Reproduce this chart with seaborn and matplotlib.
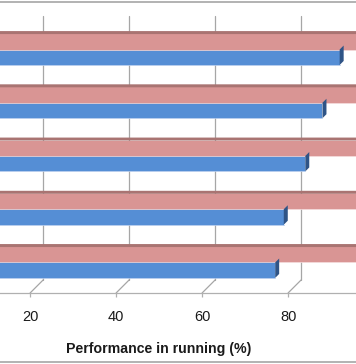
import numpy as np
import pandas as pd
import matplotlib
matplotlib.use("Agg")
import matplotlib.pyplot as plt
import seaborn as sns
from matplotlib.patches import Polygon, Rectangle

# data (category names are cropped away in the original)
groups = ["G1", "G2", "G3", "G4", "G5"]
pink_vals = [100, 100, 100, 100, 100]
blue_vals = [92, 88, 84, 79, 77]
series = ["Reference", "Running"]
xticks = [20, 40, 60, 80]

df = pd.DataFrame({
    "group": groups * 2,
    "value": pink_vals + blue_vals,
    "series": [series[0]] * 5 + [series[1]] * 5,
})

pink = "#d99594"
blue = "#558ed5"
pink_top = "#a97472"
blue_side = "#2f5486"

sns.set_style("white")
plt.rcParams["font.family"] = ["Liberation Sans", "DejaVu Sans"]

W, H = 356, 364
fig = plt.figure(figsize=(W / 100, H / 100), dpi=100)
floor_px = 293
ax = fig.add_axes([0, (H - floor_px) / H, 1, floor_px / H])

sns.barplot(data=df, x="value", y="group", hue="series", orient="h",
            palette=[pink, blue], width=0.58, gap=0, saturation=1,
            legend=False, ax=ax, zorder=3, linewidth=0, edgecolor="none")

ax.set_xlim(13.0, 95.8)
ax.set_ylim(4.573, -0.93)

# pixel -> data sizes
px_x = (95.8 - 13.0) / W
px_y = (4.573 + 0.93) / floor_px
d = 4  # depth of the 3d faces, px

bars = ax.patches[:]
for i, b in enumerate(bars):
    x0, y0 = b.get_x(), b.get_y()
    w, h = b.get_width(), b.get_height()
    top, bot = y0, y0 + h
    if i < len(groups):
        # top face of pink bars
        ax.add_patch(Polygon([(x0, top), (x0 + d * px_x, top - 3 * px_y),
                              (x0 + w + d * px_x, top - 3 * px_y), (x0 + w, top)],
                             closed=True, fc=pink_top, ec="none", zorder=3))
        ax.plot([x0, x0 + w], [bot, bot], color="#f0d0d0", lw=0.6, zorder=4)
    else:
        # side face of blue bars
        ax.add_patch(Polygon([(x0 + w, top), (x0 + w + d * px_x, top - d * px_y),
                              (x0 + w + d * px_x, bot - d * px_y), (x0 + w, bot)],
                             closed=True, fc=blue_side, ec="none", zorder=4))
        ax.plot([x0, x0 + w], [bot, bot], color="#aac4ea", lw=0.6, zorder=4)

# back-wall gridlines with the floor diagonal
back = 13
gtop = (floor_px - 16) / floor_px
gbot = back / floor_px
tr = ax.get_xaxis_transform()
for t in xticks:
    ax.plot([t + back * px_x, t + back * px_x], [gbot, gtop], transform=tr,
            color="#a6a6a6", lw=0.9, zorder=1)
    ax.plot([t, t + back * px_x], [0, gbot], transform=tr,
            color="#a6a6a6", lw=0.9, zorder=1)

ax.set_xticks(xticks)
ax.set_yticks([])
ax.set_xlabel("")
ax.set_ylabel("")
for s in ["top", "left", "right"]:
    ax.spines[s].set_visible(False)
ax.spines["bottom"].set_color("#b0b0b0")
ax.spines["bottom"].set_linewidth(0.9)
ax.tick_params(axis="x", direction="out", length=3, width=0.9, color="#b0b0b0",
               labelsize=10.5, pad=9, labelcolor="#1a1a1a", bottom=True)

fig.text(159 / W, 1 - 349 / H, "Performance in running (%)", ha="center", va="center",
         fontsize=10.2, fontweight="bold", color="#1a1a1a")

# chart frame
fig.patches.append(Rectangle((-0.01, 2 / H), 1.02, 1 - 4 / H, transform=fig.transFigure,
                             fill=False, ec="#a6a6a6", lw=1.2))

fig.savefig("out.png", dpi=100)
